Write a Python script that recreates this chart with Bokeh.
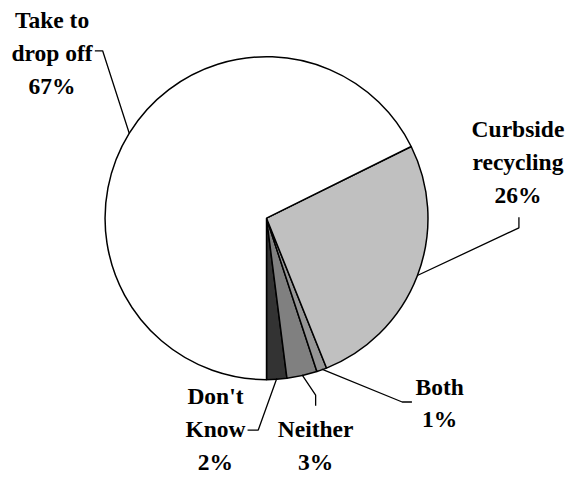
import math
from bokeh.plotting import figure
from bokeh.models import Range1d, ColumnDataSource
from bokeh.core.properties import value
from bokeh.embed import file_html
from bokeh.resources import INLINE

# ---- data ----
categories = ["Don't Know", "Neither", "Both", "Curbside recycling", "Take to drop off"]
values = [2, 3, 1, 26, 67]
pct_labels = ["2%", "3%", "1%", "26%", "67%"]
label_lines = [["Don't", "Know"], ["Neither"], ["Both"], ["Curbside", "recycling"], ["Take to", "drop off"]]
colors = ["#333333", "#808080", "#969696", "#C0C0C0", "#FFFFFF"]

# ---- layout (reference picture pixels, 585 x 492) ----
W, H = 569, 476
RW, RH = 585, 492
def X(sx):
    return sx
def Y(sy):
    return RH - sy

cx, cy, R = 273.5, 225.0, 166.0
# label block: centre x, first baseline y
label_pos = [(221, 418), (324, 452), (451.5, 408), (532, 142), (53, 29)]
line_gap = 34
text_shift = 9.0   # compensate renderer baseline offset
# leader elbow and end points
leader_pts = [[(265, 444), (254, 444)],
              [(324, 408), (324, 419)],
              [(413, 415), (423, 415)],
              [(533, 235), (533, 224)],
              [(105, 52), (97, 52)]]

p = figure(width=W, height=H, output_backend="svg", toolbar_location=None,
           x_range=Range1d(0, RW), y_range=Range1d(0, RH),
           x_axis_type=None, y_axis_type=None, min_border=0)
p.outline_line_color = None
p.grid.visible = False
p.background_fill_color = "white"
p.border_fill_color = "white"

total = float(sum(values))
starts, ends, mids = [], [], []
a = -math.pi / 2
for v in values:
    da = v / total * 2 * math.pi
    starts.append(a)
    ends.append(a + da)
    mids.append(a + da / 2)
    a += da

src = ColumnDataSource(dict(x=[X(cx)] * len(values), y=[Y(cy)] * len(values),
                            start=starts, end=ends, color=colors, cat=categories))
p.wedge(x="x", y="y", radius=R, start_angle="start", end_angle="end",
        fill_color="color", line_color="black", line_width=1.5, source=src)

# leader lines
xs, ys = [], []
for m, pts in zip(mids, leader_pts):
    rx = cx + R * math.cos(m)
    ry = cy - R * math.sin(m)
    px = [X(rx)] + [X(q[0]) for q in pts]
    py = [Y(ry)] + [Y(q[1]) for q in pts]
    xs.append(px)
    ys.append(py)
p.multi_line(xs=xs, ys=ys, line_color="black", line_width=1.3)

# labels
tx, ty, tt = [], [], []
for lines, pct, (lx, ly) in zip(label_lines, pct_labels, label_pos):
    allp = lines + [pct]
    for i, s in enumerate(allp):
        tx.append(X(lx))
        ty.append(Y(ly + i * line_gap - text_shift))
        tt.append(s)
p.text(x=tx, y=ty, text=tt, text_font=value("Liberation Serif"), text_font_style="bold",
       text_font_size="23.5px", text_align="center", text_baseline="alphabetic",
       text_color="black")

open("out.html", "w").write(file_html(p, INLINE))
